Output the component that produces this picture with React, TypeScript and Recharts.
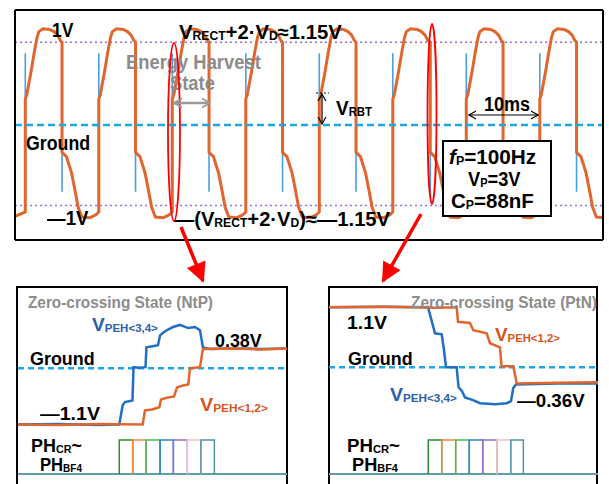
import { useLayoutEffect, useRef, useState } from "react";
import { LineChart, Line, XAxis, YAxis, ReferenceLine } from "recharts";

// ---------- top: scope capture (t in ms, v in volts) ----------
const riseTimes = [1.4, 11.4, 21.4, 31.4, 41.4, 51.4, 61.4, 71.4];
const fallTimes = [6.4, 16.4, 26.4, 36.4, 46.4, 56.5, 66.4, 76.4];
// shape after a rising edge: [ms after edge, volts]
const highShape = [
  [0, -1.21], [0, 0.36], [0.2, 0.42], [0.8, 0.75], [1.2, 1.0], [1.6, 1.22],
  [1.85, 1.3], [2.4, 1.34], [3.3, 1.33], [3.9, 1.3], [4.4, 1.25], [4.75, 1.18],
];
// shape after a falling edge
const lowShape = [
  [0, 1.15], [0, -0.38], [0.6, -0.44], [1.3, -0.67], [1.8, -0.93],
  [2.2, -1.15], [2.7, -1.28], [3.8, -1.29], [4.6, -1.25],
];
const startLevel = -1.27;
const blueRiseSpike = [1.0, 0.36];
const blueFallSpike = [-0.38, -0.93];
const scopeTimeTicks = [10, 20, 30, 40, 50, 60, 70];
const scopeVoltTicks = [-1.06, -0.53, 0, 0.53, 1.06];
const rectLevels = [1.15, -1.12];

// ---------- bottom: zero-crossing zooms (u = time units, v in volts) ----------
const ntpBlue = [
  [0, -1.08], [30, -1.07], [60, -1.09], [75.3, -1.08], [77.8, -0.71], [79.6, -0.65],
  [85.1, -0.62], [85.9, 0.02], [90, 0.01], [94.8, 0.02], [95.5, 0.4], [100, 0.42],
  [104.1, 0.44], [105.6, 0.63], [109.3, 0.71], [115.2, 0.79], [120.4, 0.83],
  [126.4, 0.77], [131.6, 0.79], [135.3, 0.73], [137.5, 0.4], [142.8, 0.37],
  [160, 0.38], [180, 0.37], [200, 0.38],
];
const ntpOrange = [
  [0, -1.08], [30, -1.09], [60, -1.07], [92.7, -1.08], [94.4, -0.81], [99.6, -0.79],
  [105.1, -0.75], [106.3, -0.6], [111.5, -0.56], [116, -0.54], [118.2, -0.37],
  [122.7, -0.33], [126.6, -0.31], [127.9, 0.0], [135.3, 0.02], [137.5, 0.37],
  [160, 0.38], [180, 0.36], [200, 0.38],
];
const ptnBlue = [
  [0, 1.15], [40, 1.16], [73.6, 1.15], [75.8, 0.94], [78.8, 0.65], [83.8, 0.63],
  [85.5, 0.33], [87, 0.0], [94.9, 0.0], [96.3, -0.38], [98.9, -0.46], [101.1, -0.58],
  [107.1, -0.63], [112.3, -0.69], [123.4, -0.71], [132.1, -0.69], [135.3, -0.65],
  [137, -0.4], [139, -0.33], [170, -0.31], [200, -0.31],
];
const ptnOrange = [
  [0, 1.15], [40, 1.16], [80, 1.14], [94.9, 1.15], [95.9, 0.87], [104.8, 0.85],
  [107.3, 0.71], [117.2, 0.65], [119.7, 0.46], [127.1, 0.38], [128.3, 0.02],
  [137, 0.02], [139.6, -0.31], [170, -0.3], [200, -0.29],
];
const ntpPulseEdges = [75.3, 85.3, 95.2, 105.6, 115.5, 125.9, 136, 146];
const ptnPulseEdges = [73.8, 83.8, 94.2, 104.3, 114.3, 124.8, 135.2, 144.5];
const pulseColors = ["#2e8b2e", "#f08a3c", "#3cc05a", "#2f7fd0", "#9070c8", "#f2c4cc", "#4f94ad"];

const ORANGE = "#e0662e";
const BLUE_TOP = "#4a9fe0";
const BLUE = "#1f6fc5";
const FONT = '"Liberation Sans", Arial, sans-serif';

// build series
const scopeOrange: { t: number; v: number | null }[] = [{ t: 0, v: startLevel }];
riseTimes.forEach((r, i) => {
  highShape.forEach(([dt, v]) => scopeOrange.push({ t: r + dt, v }));
  lowShape.forEach(([dt, v]) => scopeOrange.push({ t: fallTimes[i] + dt, v }));
});
const scopeBlue: { t: number; v: number | null }[] = [];
riseTimes.forEach((r) => {
  scopeBlue.push({ t: r, v: blueRiseSpike[0] }, { t: r, v: blueRiseSpike[1] }, { t: r, v: null });
});
fallTimes.forEach((f) => {
  scopeBlue.push({ t: f, v: blueFallSpike[0] }, { t: f, v: blueFallSpike[1] }, { t: f, v: null });
});
const toPts = (arr: number[][]) => arr.map(([u, v]) => ({ u, v }));
const pulses = (edges: number[]) =>
  pulseColors.map((c, i) => ({
    color: c,
    data: [
      { u: edges[i], v: 0 }, { u: edges[i], v: 1 },
      { u: edges[i + 1], v: 1 }, { u: edges[i + 1], v: 0 },
    ],
  }));
const baseLine = [{ u: 0, v: 0 }, { u: 200, v: 0 }];

const Sub = ({ children }: any) => (
  <span style={{ fontSize: "0.6em", position: "relative", top: "0.1em" }}>{children}</span>
);

function Label({ x, cy, w, size = 19, color = "#000", children }: any) {
  const ref = useRef<HTMLSpanElement>(null);
  const [sx, setSx] = useState(1);
  useLayoutEffect(() => {
    const nat = ref.current ? ref.current.offsetWidth : 0;
    if (nat) setSx(w / nat);
  }, [w]);
  return (
    <span
      ref={ref}
      style={{
        position: "absolute",
        left: x,
        top: cy - size * 0.49,
        fontSize: size,
        lineHeight: `${size}px`,
        fontFamily: FONT,
        fontWeight: 700,
        color,
        whiteSpace: "nowrap",
        transform: `scaleX(${sx})`,
        transformOrigin: "0 50%",
      }}
    >
      {children}
    </span>
  );
}

const axisLine = { stroke: "#000", strokeWidth: 2 };
const tickLine = { stroke: "#333", strokeWidth: 1 };

function ScopeChart() {
  return (
    <LineChart width={609} height={250} margin={{ top: 10, right: 6, bottom: 10, left: 15 }}>
      <XAxis xAxisId="b" type="number" dataKey="t" domain={[0, 80]} allowDataOverflow ticks={scopeTimeTicks}
        tick={false} tickSize={5} mirror axisLine={axisLine} tickLine={tickLine} />
      <XAxis xAxisId="t" orientation="top" type="number" dataKey="t" domain={[0, 80]} allowDataOverflow
        ticks={scopeTimeTicks} tick={false} tickSize={5} mirror axisLine={axisLine} tickLine={tickLine} />
      <YAxis yAxisId="l" type="number" domain={[-1.6, 1.6]} allowDataOverflow ticks={scopeVoltTicks}
        tick={false} tickSize={5} mirror axisLine={axisLine} tickLine={tickLine} />
      <YAxis yAxisId="r" orientation="right" type="number" domain={[-1.6, 1.6]} allowDataOverflow
        ticks={scopeVoltTicks} tick={false} tickSize={5} mirror axisLine={axisLine} tickLine={tickLine} />
      {rectLevels.map((y) => (
        <ReferenceLine key={y} xAxisId="b" yAxisId="l" y={y} stroke="#9b6cf0" strokeWidth={1.5} strokeDasharray="2 3" />
      ))}
      <Line xAxisId="b" yAxisId="l" data={scopeBlue} dataKey="v" stroke={BLUE_TOP} strokeWidth={1.6}
        dot={false} activeDot={false} isAnimationActive={false} connectNulls={false} />
      <Line xAxisId="b" yAxisId="l" data={scopeOrange} dataKey="v" stroke={ORANGE} strokeWidth={3}
        dot={false} activeDot={false} isAnimationActive={false} />
      <ReferenceLine xAxisId="b" yAxisId="l" y={0} stroke="#1aa9e6" strokeWidth={2.5} strokeDasharray="7 4" />
    </LineChart>
  );
}

function TraceChart({ blue, orange }: any) {
  return (
    <LineChart width={269} height={146} margin={{ top: 0, right: 0, bottom: 0, left: 0 }}>
      <XAxis type="number" dataKey="u" domain={[0, 200]} allowDataOverflow hide />
      <YAxis type="number" domain={[-1.3, 1.5]} allowDataOverflow hide />
      <ReferenceLine y={0} stroke="#1aa9e6" strokeWidth={2.5} strokeDasharray="6 4" />
      <Line data={toPts(blue)} dataKey="v" stroke={BLUE} strokeWidth={2.5} dot={false} activeDot={false} isAnimationActive={false} />
      <Line data={toPts(orange)} dataKey="v" stroke={ORANGE} strokeWidth={2.5} dot={false} activeDot={false} isAnimationActive={false} />
    </LineChart>
  );
}

function PulseChart({ edges }: any) {
  return (
    <LineChart width={269} height={38} margin={{ top: 2, right: 0, bottom: 2, left: 0 }}>
      <XAxis type="number" dataKey="u" domain={[0, 200]} allowDataOverflow hide />
      <YAxis type="number" domain={[0, 1]} hide />
      <Line data={baseLine} dataKey="v" stroke="#5f9ea8" strokeWidth={2} dot={false} activeDot={false} isAnimationActive={false} />
      {pulses(edges).map((p) => (
        <Line key={p.color} data={p.data} dataKey="v" stroke={p.color} strokeWidth={1.5} dot={false} activeDot={false} isAnimationActive={false} />
      ))}
    </LineChart>
  );
}

const abs = (left: number, top: number) => ({ position: "absolute" as const, left, top });

export default function App() {
  const gray = "#8c8c8c";
  const vBlue = "#2a5fb0";
  const vOrange = "#d9541e";
  return (
    <div style={{ position: "absolute", left: 0, top: 0, width: 609, height: 484, overflow: "hidden", background: "#fff" }}>
      <div style={abs(0, 0)}><ScopeChart /></div>

      {/* bottom panel frames */}
      <div style={{ ...abs(16, 286), width: 272, height: 210, border: "2px solid #000", borderBottom: "none", boxSizing: "border-box" }} />
      <div style={{ ...abs(328, 286), width: 270, height: 210, border: "2px solid #000", borderBottom: "none", boxSizing: "border-box" }} />

      <div style={abs(18, 290)}><TraceChart blue={ntpBlue} orange={ntpOrange} /></div>
      <div style={abs(18, 438)}><PulseChart edges={ntpPulseEdges} /></div>
      <div style={abs(329, 289)}><TraceChart blue={ptnBlue} orange={ptnOrange} /></div>
      <div style={abs(329, 438)}><PulseChart edges={ptnPulseEdges} /></div>

      {/* box */}
      <div style={{ ...abs(442, 140), width: 110, height: 77, border: "2px solid #000", background: "#fff", boxSizing: "border-box" }} />

      {/* top labels */}
      <Label x={52} cy={30} w={21} size={20}>1V</Label>
      <Label x={179} cy={32} w={163} size={20}>V<Sub>RECT</Sub>+2·V<Sub>D</Sub>≈1.15V</Label>
      <Label x={126} cy={62} w={135} size={20} color={gray}>Energy Harvest</Label>
      <Label x={170} cy={83} w={45} size={20} color={gray}>State</Label>
      <Label x={26} cy={143} w={64} size={20}>Ground</Label>
      <Label x={47} cy={218} w={41} size={20}>—1V</Label>
      <Label x={174} cy={219} w={216} size={20}>—(V<Sub>RECT</Sub>+2·V<Sub>D</Sub>)≈—1.15V</Label>
      <Label x={336} cy={108} w={36} size={20}>V<Sub>RBT</Sub></Label>
      <Label x={484} cy={104} w={46} size={20}>10ms</Label>
      <Label x={449} cy={157} w={87} size={20}><i>f</i><Sub>P</Sub>=100Hz</Label>
      <Label x={468} cy={179} w={53} size={20}>V<Sub>P</Sub>=3V</Label>
      <Label x={451} cy={201} w={83} size={20}>C<Sub>P</Sub>=88nF</Label>

      {/* bottom-left labels */}
      <Label x={28} cy={302} w={185} size={17} color={gray}>Zero-crossing State (NtP)</Label>
      <Label x={92} cy={325} w={66} size={18} color={vBlue}>V<Sub>PEH&lt;3,4&gt;</Sub></Label>
      <Label x={215} cy={340} w={47} size={19}>0.38V</Label>
      <Label x={30} cy={358} w={65} size={19}>Ground</Label>
      <Label x={200} cy={405} w={68} size={18} color={vOrange}>V<Sub>PEH&lt;1,2&gt;</Sub></Label>
      <Label x={40} cy={413} w={60} size={19}>—1.1V</Label>
      <Label x={31} cy={445} w={51} size={19}>PH<Sub>CR</Sub>~</Label>
      <Label x={40} cy={464} w={42} size={19}>PH<Sub>BF4</Sub></Label>

      {/* bottom-right labels */}
      <Label x={411} cy={302} w={186} size={17} color={gray}>Zero-crossing State (PtN)</Label>
      <Label x={347} cy={322} w={40} size={19}>1.1V</Label>
      <Label x={348} cy={358} w={65} size={19}>Ground</Label>
      <Label x={495} cy={335} w={65} size={18} color={vOrange}>V<Sub>PEH&lt;1,2&gt;</Sub></Label>
      <Label x={390} cy={395} w={67} size={18} color={vBlue}>V<Sub>PEH&lt;3,4&gt;</Sub></Label>
      <Label x={517} cy={400} w={68} size={19}>—0.36V</Label>
      <Label x={347} cy={445} w={53} size={19}>PH<Sub>CR</Sub>~</Label>
      <Label x={352} cy={464} w={46} size={19}>PH<Sub>BF4</Sub></Label>

      {/* annotations */}
      <svg width={609} height={484} style={{ ...abs(0, 0), pointerEvents: "none" }}>
        <defs>
          <marker id="redHead" viewBox="0 0 10 10" refX="9" refY="5" markerWidth="24" markerHeight="20"
            markerUnits="userSpaceOnUse" orient="auto">
            <path d="M0,0 L10,5 L0,10 z" fill="#ff0000" />
          </marker>
          <marker id="blackHead" viewBox="0 0 10 10" refX="9" refY="5" markerWidth="8" markerHeight="10"
            markerUnits="userSpaceOnUse" orient="auto-start-reverse">
            <path d="M0,0 L9,5 L0,10" fill="none" stroke="#000" strokeWidth="1.5" />
          </marker>
          <marker id="grayHead" viewBox="0 0 10 10" refX="9" refY="5" markerWidth="9" markerHeight="12"
            markerUnits="userSpaceOnUse" orient="auto-start-reverse">
            <path d="M0,0 L9,5 L0,10" fill="none" stroke="#999" strokeWidth="2" />
          </marker>
        </defs>
        <ellipse cx={174} cy={132} rx={6} ry={89} fill="none" stroke="#ff0000" strokeWidth={1.8} />
        <ellipse cx={432} cy={114} rx={4.5} ry={90} fill="none" stroke="#ff0000" strokeWidth={1.8} />
        <line x1={181} y1={227} x2={203} y2={281} stroke="#ff0000" strokeWidth={3.5} markerEnd="url(#redHead)" />
        <line x1={421} y1={214} x2={383} y2={281} stroke="#ff0000" strokeWidth={3.5} markerEnd="url(#redHead)" />
        <line x1={174} y1={103} x2={210} y2={103} stroke="#999" strokeWidth={2.5}
          markerStart="url(#grayHead)" markerEnd="url(#grayHead)" />
        <line x1={469} y1={115} x2={538} y2={115} stroke="#000" strokeWidth={1.2}
          markerStart="url(#blackHead)" markerEnd="url(#blackHead)" />
        <line x1={322} y1={94} x2={322} y2={124} stroke="#000" strokeWidth={1.2}
          markerStart="url(#blackHead)" markerEnd="url(#blackHead)" />
        <line x1={316} y1={93} x2={329} y2={93} stroke="#000" strokeWidth={1} strokeDasharray="2 2" />
      </svg>
    </div>
  );
}
